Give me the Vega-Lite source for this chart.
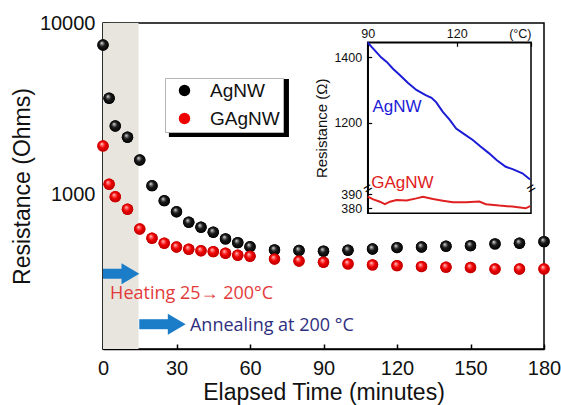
{
  "$schema": "https://vega.github.io/schema/vega-lite/v6.json",
  "width": 441,
  "height": 326,
  "autosize": {"type": "none"},
  "padding": {"left": 103, "top": 23, "right": 17, "bottom": 56},
  "background": "white",
  "config": {
    "view": {"stroke": "black", "strokeWidth": 1.5},
    "axis": {"labelFont": "Liberation Sans", "titleFont": "Liberation Sans", "titleFontWeight": "normal", "grid": false, "domainColor": "black", "tickColor": "black", "labelColor": "#111", "titleColor": "#111"},
    "legend": {"labelFont": "Liberation Sans", "labelFontSize": 19, "labelColor": "#111"}
  },
  "datasets": {
    "pts": [
      {"t": 0, "v": 7455, "s": "AgNW"}, {"t": 2.5, "v": 3650, "s": "AgNW"}, {"t": 5, "v": 2519, "s": "AgNW"}, {"t": 10, "v": 2164, "s": "AgNW"}, {"t": 15, "v": 1597, "s": "AgNW"}, {"t": 20, "v": 1132, "s": "AgNW"}, {"t": 25, "v": 926, "s": "AgNW"}, {"t": 30, "v": 799, "s": "AgNW"}, {"t": 35, "v": 694, "s": "AgNW"}, {"t": 40, "v": 649, "s": "AgNW"}, {"t": 45, "v": 607, "s": "AgNW"}, {"t": 50, "v": 555, "s": "AgNW"}, {"t": 55, "v": 528, "s": "AgNW"}, {"t": 60, "v": 500, "s": "AgNW"}, {"t": 70, "v": 479, "s": "AgNW"}, {"t": 80, "v": 475, "s": "AgNW"}, {"t": 90, "v": 471, "s": "AgNW"}, {"t": 100, "v": 477, "s": "AgNW"}, {"t": 110, "v": 485, "s": "AgNW"}, {"t": 120, "v": 494, "s": "AgNW"}, {"t": 130, "v": 498, "s": "AgNW"}, {"t": 140, "v": 503, "s": "AgNW"}, {"t": 150, "v": 507, "s": "AgNW"}, {"t": 160, "v": 519, "s": "AgNW"}, {"t": 170, "v": 524, "s": "AgNW"}, {"t": 180, "v": 535, "s": "AgNW"},
      {"t": 0, "v": 1928, "s": "GAgNW"}, {"t": 2.5, "v": 1154, "s": "GAgNW"}, {"t": 5, "v": 977, "s": "GAgNW"}, {"t": 10, "v": 826, "s": "GAgNW"}, {"t": 15, "v": 634, "s": "GAgNW"}, {"t": 20, "v": 560, "s": "GAgNW"}, {"t": 25, "v": 524, "s": "GAgNW"}, {"t": 30, "v": 498, "s": "GAgNW"}, {"t": 35, "v": 483, "s": "GAgNW"}, {"t": 40, "v": 473, "s": "GAgNW"}, {"t": 45, "v": 468, "s": "GAgNW"}, {"t": 50, "v": 458, "s": "GAgNW"}, {"t": 55, "v": 446, "s": "GAgNW"}, {"t": 60, "v": 440, "s": "GAgNW"}, {"t": 70, "v": 424, "s": "GAgNW"}, {"t": 80, "v": 413, "s": "GAgNW"}, {"t": 90, "v": 406, "s": "GAgNW"}, {"t": 100, "v": 397, "s": "GAgNW"}, {"t": 110, "v": 392, "s": "GAgNW"}, {"t": 120, "v": 388, "s": "GAgNW"}, {"t": 130, "v": 383, "s": "GAgNW"}, {"t": 140, "v": 380, "s": "GAgNW"}, {"t": 150, "v": 378, "s": "GAgNW"}, {"t": 160, "v": 371, "s": "GAgNW"}, {"t": 170, "v": 371, "s": "GAgNW"}, {"t": 180, "v": 371, "s": "GAgNW"}
    ],
    "shade": [{"t": 0, "t2": 14.5}],
    "shadow": [{"t": 26.9, "t2": 75.9, "v": 4722, "v2": 2173}],
    "arrows": [{"t": 0, "t2": 10, "th": 11.2, "v": 348}, {"t": 14.8, "t2": 27.5, "th": 30.1, "v": 177}],
    "heat": [{"t": 2.9, "v": 266, "lab": "Heating 25→ 200°C"}],
    "anneal": [{"t": 35.5, "v": 173, "lab": "Annealing at 200 °C"}],
    "frame": [{"temp": 90, "temp2": 145, "r": 376.4, "r2": 1446}],
    "ag": [
      {"temp": 90, "r": 1446}, {"temp": 91.3, "r": 1432}, {"temp": 93, "r": 1415}, {"temp": 94.5, "r": 1400}, {"temp": 96.4, "r": 1386}, {"temp": 98.5, "r": 1365}, {"temp": 100.8, "r": 1346}, {"temp": 103.5, "r": 1322}, {"temp": 106.4, "r": 1300}, {"temp": 109.5, "r": 1284}, {"temp": 111.5, "r": 1276}, {"temp": 113.1, "r": 1262}, {"temp": 115.3, "r": 1233}, {"temp": 117.5, "r": 1210}, {"temp": 119.8, "r": 1182}, {"temp": 122.5, "r": 1165}, {"temp": 125.4, "r": 1147}, {"temp": 128, "r": 1127}, {"temp": 130.9, "r": 1106}, {"temp": 133.5, "r": 1085}, {"temp": 136.5, "r": 1065}, {"temp": 139, "r": 1057}, {"temp": 142.1, "r": 1045}, {"temp": 144.7, "r": 1026}
    ],
    "gag": [
      {"temp": 90, "r": 388.3}, {"temp": 91.9, "r": 386.4}, {"temp": 94.1, "r": 384.7}, {"temp": 95.8, "r": 383}, {"temp": 97.5, "r": 384.7}, {"temp": 99.7, "r": 385.9}, {"temp": 103.1, "r": 385.6}, {"temp": 106.4, "r": 387.1}, {"temp": 108.6, "r": 388.3}, {"temp": 112, "r": 386.6}, {"temp": 115.3, "r": 385.4}, {"temp": 118.7, "r": 384.3}, {"temp": 123.1, "r": 384.3}, {"temp": 127.6, "r": 384.8}, {"temp": 129.8, "r": 382.9}, {"temp": 134.3, "r": 381.9}, {"temp": 138.7, "r": 381.2}, {"temp": 143.2, "r": 380}, {"temp": 144.7, "r": 381.6}
    ],
    "aglab": [{"temp": 91.6, "r": 1249, "lab": "AgNW"}],
    "gaglab": [{"temp": 91.2, "r": 1016, "lab": "GAgNW"}],
    "brk": [{"temp": 90, "r": 700}, {"temp": 145, "r": 700}]
  },
  "layer": [
    {
      "layer": [
        {
          "data": {"name": "shade"},
          "mark": {"type": "rect", "color": "#e8e5df"},
          "encoding": {
            "x": {"field": "t", "type": "quantitative", "scale": {"domain": [0, 180], "nice": false}},
            "x2": {"field": "t2"}
          }
        },
        {
          "data": {"name": "shadow"},
          "mark": {"type": "rect", "color": "black"},
          "encoding": {
            "x": {"field": "t", "type": "quantitative", "scale": {"domain": [0, 180], "nice": false}},
            "x2": {"field": "t2"},
            "y": {"field": "v", "type": "quantitative", "scale": {"type": "log", "domain": [127, 10000], "nice": false}},
            "y2": {"field": "v2"}
          }
        },
        {
          "data": {"name": "arrows"},
          "mark": {"type": "rule", "color": "#1b7dc8", "strokeWidth": 10, "strokeCap": "butt"},
          "encoding": {
            "x": {"field": "t", "type": "quantitative", "scale": {"domain": [0, 180], "nice": false}},
            "x2": {"field": "t2"},
            "y": {"field": "v", "type": "quantitative", "scale": {"type": "log", "domain": [127, 10000], "nice": false}}
          }
        },
        {
          "data": {"name": "arrows"},
          "mark": {"type": "point", "shape": "M-0.85,-1L0.85,0L-0.85,1Z", "filled": true, "size": 441, "color": "#1b7dc8", "opacity": 1, "strokeWidth": 0},
          "encoding": {
            "x": {"field": "th", "type": "quantitative", "scale": {"domain": [0, 180], "nice": false}},
            "y": {"field": "v", "type": "quantitative", "scale": {"type": "log", "domain": [127, 10000], "nice": false}}
          }
        },
        {
          "data": {"name": "heat"},
          "mark": {"type": "text", "align": "left", "baseline": "middle", "font": "Open Sans", "fontSize": 18, "color": "#e23a3a"},
          "encoding": {
            "x": {"field": "t", "type": "quantitative", "scale": {"domain": [0, 180], "nice": false}},
            "y": {"field": "v", "type": "quantitative", "scale": {"type": "log", "domain": [127, 10000], "nice": false}},
            "text": {"field": "lab"}
          }
        },
        {
          "data": {"name": "anneal"},
          "mark": {"type": "text", "align": "left", "baseline": "middle", "font": "Open Sans", "fontSize": 18, "color": "#2e2f7e"},
          "encoding": {
            "x": {"field": "t", "type": "quantitative", "scale": {"domain": [0, 180], "nice": false}},
            "y": {"field": "v", "type": "quantitative", "scale": {"type": "log", "domain": [127, 10000], "nice": false}},
            "text": {"field": "lab"}
          }
        },
        {
          "data": {"name": "pts"},
          "mark": {"type": "point", "filled": true, "size": 130, "opacity": 1, "strokeWidth": 0},
          "encoding": {
            "x": {
              "field": "t", "type": "quantitative",
              "scale": {"domain": [0, 180], "nice": false},
              "axis": {"values": [0, 30, 60, 90, 120, 150, 180], "title": "Elapsed Time (minutes)", "labelFontSize": 20, "titleFontSize": 23, "tickSize": -5, "tickWidth": 1.5, "domainWidth": 1.5, "labelPadding": 14, "titlePadding": 3, "labelFlush": false}
            },
            "y": {
              "field": "v", "type": "quantitative",
              "scale": {"type": "log", "domain": [127, 10000], "nice": false},
              "axis": {"values": [200, 300, 400, 500, 600, 700, 800, 900, 1000, 2000, 3000, 4000, 5000, 6000, 7000, 8000, 9000, 10000], "labelExpr": "datum.value == 1000 ? '1000' : (datum.value == 10000 ? '10000' : '')", "labelOverlap": false, "title": "Resistance (Ohms)", "labelFontSize": 20, "titleFontSize": 23, "tickSize": -5, "tickWidth": 1.5, "domainWidth": 1.5, "labelPadding": 13, "titlePadding": 5}
            },
            "color": {
              "field": "s", "type": "nominal",
              "scale": {"domain": ["AgNW", "GAgNW"], "range": ["#000000", "#ee0000"]},
              "legend": {"orient": "none", "legendX": 62, "legendY": 55, "direction": "vertical", "title": null, "padding": 3, "symbolOffset": 7, "labelOffset": 16, "rowPadding": 8, "symbolSize": 130, "symbolStrokeWidth": 0, "symbolType": "circle", "symbolOpacity": 1, "strokeColor": "#b5b5b5", "fillColor": "white"}
            }
          }
        },
        {
          "data": {"name": "pts"},
          "transform": [{"filter": "datum.s == 'AgNW'"}],
          "mark": {"type": "point", "filled": true, "size": 130, "opacity": 1, "strokeWidth": 0, "fill": {"gradient": "radial", "x1": 0.38, "y1": 0.32, "r1": 0, "x2": 0.5, "y2": 0.5, "r2": 0.55, "stops": [{"offset": 0, "color": "#f4f4f4"}, {"offset": 0.18, "color": "#8a8a8a"}, {"offset": 0.45, "color": "#1a1a1a"}, {"offset": 1, "color": "#000000"}]}},
          "encoding": {
            "x": {"field": "t", "type": "quantitative", "scale": {"domain": [0, 180], "nice": false}},
            "y": {"field": "v", "type": "quantitative", "scale": {"type": "log", "domain": [127, 10000], "nice": false}}
          }
        },
        {
          "data": {"name": "pts"},
          "transform": [{"filter": "datum.s == 'GAgNW'"}],
          "mark": {"type": "point", "filled": true, "size": 130, "opacity": 1, "strokeWidth": 0, "fill": {"gradient": "radial", "x1": 0.38, "y1": 0.32, "r1": 0, "x2": 0.5, "y2": 0.5, "r2": 0.55, "stops": [{"offset": 0, "color": "#ffe6e6"}, {"offset": 0.2, "color": "#ff6a6a"}, {"offset": 0.5, "color": "#f00000"}, {"offset": 1, "color": "#b00000"}]}},
          "encoding": {
            "x": {"field": "t", "type": "quantitative", "scale": {"domain": [0, 180], "nice": false}},
            "y": {"field": "v", "type": "quantitative", "scale": {"type": "log", "domain": [127, 10000], "nice": false}}
          }
        }
      ]
    },
    {
      "layer": [
        {
          "data": {"name": "frame"},
          "mark": {"type": "rect", "fill": null, "stroke": "black", "strokeWidth": 1.5},
          "encoding": {
            "x": {
              "field": "temp", "type": "quantitative",
              "scale": {"domain": [90, 145], "range": [264.7, 428], "nice": false, "zero": false},
              "axis": {"orient": "top", "offset": -19.3, "values": [90, 120, 145], "labelExpr": "datum.value >= 145 ? '(°C)' : datum.label", "labelAlign": {"condition": {"test": "datum.value >= 145", "value": "right"}, "value": "center"}, "title": null, "labelFontSize": 12.5, "tickSize": -4, "tickWidth": 1.2, "domainWidth": 1.5, "labelPadding": 6, "labelFlush": false}
            },
            "x2": {"field": "temp2"},
            "y": {
              "field": "r", "type": "quantitative",
              "scale": {"domain": [376.4, 394.3, 999, 1446], "range": [190.3, 165.3, 165.3, 19.3], "nice": false, "zero": false},
              "axis": {"orient": "left", "offset": -264.7, "values": [380, 390, 1200, 1400], "format": "d", "title": "Resistance (Ω)", "titleFontSize": 15, "titlePadding": 4, "labelFontSize": 12.5, "tickSize": -4, "tickWidth": 1.2, "domainWidth": 1.5, "labelPadding": 10, "labelOverlap": false}
            },
            "y2": {"field": "r2"}
          }
        },
        {
          "data": {"name": "ag"},
          "mark": {"type": "line", "color": "#1c1cd6", "strokeWidth": 2},
          "encoding": {
            "x": {"field": "temp", "type": "quantitative", "scale": {"domain": [90, 145], "range": [264.7, 428], "nice": false, "zero": false}},
            "y": {"field": "r", "type": "quantitative", "scale": {"domain": [376.4, 394.3, 999, 1446], "range": [190.3, 165.3, 165.3, 19.3], "nice": false, "zero": false}}
          }
        },
        {
          "data": {"name": "gag"},
          "mark": {"type": "line", "color": "#e02020", "strokeWidth": 2},
          "encoding": {
            "x": {"field": "temp", "type": "quantitative", "scale": {"domain": [90, 145], "range": [264.7, 428], "nice": false, "zero": false}},
            "y": {"field": "r", "type": "quantitative", "scale": {"domain": [376.4, 394.3, 999, 1446], "range": [190.3, 165.3, 165.3, 19.3], "nice": false, "zero": false}}
          }
        },
        {
          "data": {"name": "aglab"},
          "mark": {"type": "text", "align": "left", "baseline": "middle", "font": "Liberation Sans", "fontSize": 17, "color": "#1c1cd6"},
          "encoding": {
            "x": {"field": "temp", "type": "quantitative", "scale": {"domain": [90, 145], "range": [264.7, 428], "nice": false, "zero": false}},
            "y": {"field": "r", "type": "quantitative", "scale": {"domain": [376.4, 394.3, 999, 1446], "range": [190.3, 165.3, 165.3, 19.3], "nice": false, "zero": false}},
            "text": {"field": "lab"}
          }
        },
        {
          "data": {"name": "gaglab"},
          "mark": {"type": "text", "align": "left", "baseline": "middle", "font": "Liberation Sans", "fontSize": 17, "color": "#e02020"},
          "encoding": {
            "x": {"field": "temp", "type": "quantitative", "scale": {"domain": [90, 145], "range": [264.7, 428], "nice": false, "zero": false}},
            "y": {"field": "r", "type": "quantitative", "scale": {"domain": [376.4, 394.3, 999, 1446], "range": [190.3, 165.3, 165.3, 19.3], "nice": false, "zero": false}},
            "text": {"field": "lab"}
          }
        },
        {
          "data": {"name": "brk"},
          "mark": {"type": "text", "text": "=", "align": "center", "baseline": "middle", "font": "Liberation Sans", "fontSize": 15, "angle": -30, "color": "black"},
          "encoding": {
            "x": {"field": "temp", "type": "quantitative", "scale": {"domain": [90, 145], "range": [264.7, 428], "nice": false, "zero": false}},
            "y": {"field": "r", "type": "quantitative", "scale": {"domain": [376.4, 394.3, 999, 1446], "range": [190.3, 165.3, 165.3, 19.3], "nice": false, "zero": false}}
          }
        }
      ]
    }
  ],
  "resolve": {"scale": {"x": "independent", "y": "independent"}}
}
